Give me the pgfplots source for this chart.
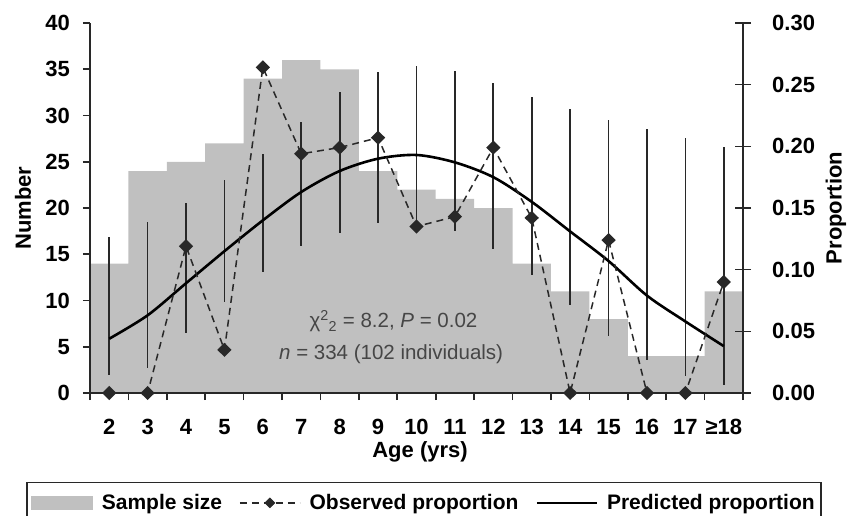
\documentclass[border=0pt]{standalone}
\usepackage{fontspec}
\setmainfont{Liberation Sans}
\usepackage{pgfplots}
\pgfplotsset{compat=1.18}
\definecolor{barcol}{RGB}{192,192,192}
\definecolor{ink}{RGB}{40,40,40}
\definecolor{anno}{RGB}{70,70,70}
\newcommand{\tfont}{\fontsize{22}{26}\selectfont\bfseries}
\begin{document}
\begin{tikzpicture}
\begin{axis}[
  at={(90pt,-393pt)}, anchor=south west,
  width=653pt, height=370pt, scale only axis,
  xmin=0, xmax=17, ymin=0, ymax=40,
  axis on top,
  axis x line*=bottom, axis y line*=left,
  axis line style={line width=1.6pt, ink, -},
  tick style={line width=1.6pt, ink},
  tick align=outside, major tick length=7pt,
  xtick={0,1,...,17}, x tick label as interval,
  xticklabels={2,3,4,5,6,7,8,9,10,11,12,13,14,15,16,17,≥18},
  ytick={0,5,...,40},
  /pgf/number format/assume math mode=true,
  tick label style={font=\tfont},
  xticklabel style={anchor=base, yshift=-34pt},
  yticklabel style={anchor=east, inner sep=0pt, xshift=-13pt},
  ylabel={Number},
  ylabel style={font=\tfont, at={(axis description cs:-0.1026,0.5)}, anchor=center},
  xlabel={Age (yrs)},
  xlabel style={font=\tfont, at={(axis description cs:0.5054,-0.173)}, anchor=base},
]
\addplot[ybar, bar width=1, bar shift=0pt, fill=barcol, draw=none] coordinates {
(0.5,14) (1.5,24) (2.5,25) (3.5,27) (4.5,34) (5.5,36) (6.5,35) (7.5,24) (8.5,22)
(9.5,21) (10.5,20) (11.5,14) (12.5,11) (13.5,8) (14.5,4) (15.5,4) (16.5,11)};
\node[font=\fontsize{20.5}{22}\selectfont, text=anno, anchor=base] at (axis cs:7.90,7.03)
  {χ\textsuperscript{2}\textsubscript{2} = 8.2, \textit{P} = 0.02};
\node[font=\fontsize{20.5}{22}\selectfont, text=anno, anchor=base] at (axis cs:7.84,3.64)
  {\textit{n} = 334 (102 individuals)};
\end{axis}
\begin{axis}[
  at={(90pt,-393pt)}, anchor=south west,
  width=653pt, height=370pt, scale only axis,
  xmin=0, xmax=17, ymin=0, ymax=0.3,
  axis x line=none, axis y line*=right,
  axis line style={line width=1.6pt, ink, -},
  tick style={line width=1.6pt, ink},
  tick align=center, major tick length=16pt,
  ytick={0,0.05,0.1,0.15,0.2,0.25,0.3},
  scaled y ticks=false,
  /pgf/number format/assume math mode=true,
  yticklabel style={/pgf/number format/fixed, /pgf/number format/fixed zerofill,
     /pgf/number format/precision=2, font=\tfont, anchor=west, inner sep=0pt, xshift=21pt},
  ylabel={Proportion},
  ylabel style={font=\tfont, at={(axis description cs:1.1424,0.5)}, anchor=center},
  clip=false,
  legend columns=3,
  legend style={at={(axis description cs:0.5115,-0.2397)}, anchor=north, draw=ink,
     line width=1.6pt, font=\fontsize{21}{25}\selectfont\bfseries, inner xsep=4pt, inner ysep=10pt,
     /tikz/every odd column/.append style={column sep=7pt},
     /tikz/every even column/.append style={column sep=15pt}},
]
\addlegendimage{legend image code/.code={\fill[barcol] (0pt,-6.5pt) rectangle (60pt,6.5pt);}}
\addlegendentry{Sample size}
\addlegendimage{legend image code/.code={
  \draw[ink, line width=1.5pt, dash pattern=on 7pt off 5pt] (0pt,0pt) -- (60pt,0pt);
  \draw[ink, fill=ink, line width=0.5pt] plot[mark=diamond*, mark size=5pt, mark options={xscale=1.35}] coordinates {(30pt,0pt)};}}
\addlegendentry{Observed proportion}
\addlegendimage{legend image code/.code={\draw[black, line width=2.6pt] (0pt,0pt) -- (60pt,0pt);}}
\addlegendentry{Predicted proportion}
% error bars
\addplot[forget plot, draw=none, mark=none,
  error bars/.cd, y dir=both, y explicit, error mark=none,
  error bar style={line width=1.7pt, draw=ink, solid}] coordinates {
(0.5,0.0706) +- (0,0.0560)
(1.5,0.0795) +- (0,0.0595)
(2.5,0.1015) +- (0,0.0525)
(3.5,0.1235) +- (0,0.0495)
(4.5,0.1460) +- (0,0.0480)
(5.5,0.1695) +- (0,0.0505)
(6.5,0.1870) +- (0,0.0570)
(7.5,0.1990) +- (0,0.0610)
(8.5,0.2000) +- (0,0.0650)
(9.5,0.1960) +- (0,0.0650)
(10.5,0.1840) +- (0,0.0670)
(11.5,0.1680) +- (0,0.0720)
(12.5,0.1505) +- (0,0.0795)
(13.5,0.1335) +- (0,0.0875)
(14.5,0.1205) +- (0,0.0935)
(15.5,0.1105) +- (0,0.0965)
(16.5,0.1028) +- (0,0.0963)};
% predicted
\addplot[forget plot, black, line width=2.6pt, smooth, mark=none] coordinates {
(0.5,0.044) (1.5,0.063) (2.5,0.089) (3.5,0.115) (4.5,0.140) (5.5,0.163) (6.5,0.180)
(7.5,0.190) (8.5,0.193) (9.5,0.187) (10.5,0.175) (11.5,0.155) (12.5,0.131)
(13.5,0.107) (14.5,0.079) (15.5,0.058) (16.5,0.038)};
% observed
\addplot[forget plot, ink, line width=1.5pt, dash pattern=on 7pt off 5pt,
  mark=diamond*, mark size=6pt, mark options={solid, fill=ink, xscale=1.35}] coordinates {
(0.5,0) (1.5,0) (2.5,0.119) (3.5,0.035) (4.5,0.264) (5.5,0.194) (6.5,0.199)
(7.5,0.207) (8.5,0.135) (9.5,0.143) (10.5,0.199) (11.5,0.142) (12.5,0)
(13.5,0.124) (14.5,0) (15.5,0) (16.5,0.090)};
\end{axis}
\pgfresetboundingbox
\path[use as bounding box] (0pt,0pt) rectangle (857pt,-515pt);
\end{tikzpicture}
\end{document}
